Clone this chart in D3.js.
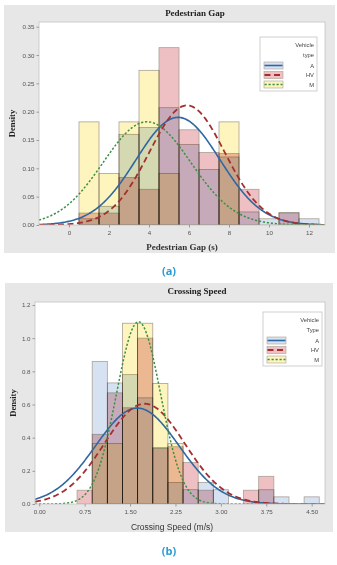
<!DOCTYPE html>
<html>
<head>
<meta charset="utf-8">
<script src="https://cdn.jsdelivr.net/npm/d3@7"></script>
<style>
  body { margin: 0; background: #fff; }
  svg { display: block; }
</style>
</head>
<body>
<svg id="fig" width="337" height="565"></svg>
<script>
// vehicle groups, in legend order
const groups = ['A', 'HV', 'M']

// (a) pedestrian gap: bin centres (s) and densities per group
const gapBins = [1, 2, 3, 4, 5, 6, 7, 8, 9, 10, 11, 12]
const gapA  = [0.011, 0.033, 0.160, 0.172, 0.207, 0.142, 0.098, 0.120, 0.023, 0.011, 0.022, 0.011]
const gapHV = [0.021, 0.021, 0.084, 0.063, 0.313, 0.168, 0.128, 0.126, 0.063, 0, 0.021, 0]
const gapM  = [0.182, 0.091, 0.182, 0.273, 0.091, 0, 0, 0.182, 0, 0, 0, 0]
// fitted normal curves (mean, sd)
const gapMean = [5.45, 5.9, 3.9]
const gapSd   = [2.1, 1.89, 2.19]
const gapXTicks = [0, 2, 4, 6, 8, 10, 12]
const gapYTicks = [0, 0.05, 0.10, 0.15, 0.20, 0.25, 0.30, 0.35]

// (b) crossing speed: bin centres (m/s) and densities per group
const speedBins = [0.75, 1.0, 1.25, 1.5, 1.75, 2.0, 2.25, 2.5, 2.75, 3.0, 3.25, 3.5, 3.75, 4.0, 4.25, 4.5]
const speedA  = [0, 0.86, 0.73, 0.78, 0.64, 0.34, 0.13, 0.086, 0.13, 0.086, 0, 0, 0.086, 0.043, 0, 0.043]
const speedHV = [0.083, 0.42, 0.67, 0.58, 1.0, 0.335, 0.345, 0.25, 0.083, 0, 0, 0.083, 0.167, 0, 0, 0]
const speedM  = [0, 0.364, 0.364, 1.09, 1.09, 0.727, 0.364, 0, 0, 0, 0, 0, 0, 0, 0, 0]
const speedMean = [1.62, 1.74, 1.64]
const speedSd   = [0.69, 0.66, 0.363]
const speedXTicks = [0, 0.75, 1.5, 2.25, 3.0, 3.75, 4.5]
const speedYTicks = [0, 0.2, 0.4, 0.6, 0.8, 1.0, 1.2]

const fills  = { A: '#d6e2f1', HV: '#eec0c4', M: '#fdf5bd' }
const lines  = { A: '#2f67a0', HV: '#a3302f', M: '#3f8f45' }
const dashes = { A: null, HV: '6,3.5', M: '2.2,1.8' }
const widths = { A: 1.6, HV: 1.8, M: 1.5 }

const svg = d3.select('#fig')

function drawPanel(p) {
    const g = svg.append('g')

    // grey graph background + white data region
    g.append('rect')
        .attr('x', p.box[0]).attr('y', p.box[1])
        .attr('width', p.box[2] - p.box[0]).attr('height', p.box[3] - p.box[1])
        .attr('fill', '#e7e7e7')
    g.append('rect')
        .attr('x', p.plot.left).attr('y', p.plot.top)
        .attr('width', p.plot.right - p.plot.left).attr('height', p.plot.bottom - p.plot.top)
        .attr('fill', '#fff')

    const x = d3.scaleLinear().domain(p.xDomain).range([p.plot.left, p.plot.right])
    const y = d3.scaleLinear().domain(p.yDomain).range([p.plot.bottom, p.plot.top])

    const clipId = 'clip-' + p.id
    g.append('clipPath').attr('id', clipId)
        .append('rect')
        .attr('x', p.plot.left).attr('y', p.plot.top)
        .attr('width', p.plot.right - p.plot.left).attr('height', p.plot.bottom - p.plot.top)

    const data = g.append('g').attr('clip-path', `url(#${clipId})`)

    // histogram bars, multiplied so overlaps darken like the original
    groups.forEach((grp, gi) => {
        const rows = p.bins.map((c, i) => ({ c, v: p.values[gi][i] })).filter(d => d.v > 0)
        data.append('g')
            .selectAll('rect')
            .data(rows)
            .join('rect')
            .attr('x', d => x(d.c - p.binWidth / 2))
            .attr('y', d => y(d.v))
            .attr('width', d => x(d.c + p.binWidth / 2) - x(d.c - p.binWidth / 2))
            .attr('height', d => y(0) - y(d.v))
            .attr('fill', fills[grp])
            .attr('stroke', '#aaa195')
            .attr('stroke-width', 0.8)
            .style('mix-blend-mode', 'multiply')
    })

    // fitted normal curves
    const xs = d3.range(p.xDomain[0], p.xDomain[1] + 0.001, (p.xDomain[1] - p.xDomain[0]) / 300)
    groups.forEach((grp, gi) => {
        const m = p.mean[gi], s = p.sd[gi]
        const pdf = v => Math.exp(-0.5 * ((v - m) / s) ** 2) / (s * Math.sqrt(2 * Math.PI))
        data.append('path')
            .datum(xs)
            .attr('d', d3.line().x(v => x(v)).y(v => y(pdf(v))))
            .attr('fill', 'none')
            .attr('stroke', lines[grp])
            .attr('stroke-width', widths[grp])
            .attr('stroke-dasharray', dashes[grp])
    })

    // frame
    g.append('rect')
        .attr('x', p.plot.left).attr('y', p.plot.top)
        .attr('width', p.plot.right - p.plot.left).attr('height', p.plot.bottom - p.plot.top)
        .attr('fill', 'none').attr('stroke', '#c4c4c4').attr('stroke-width', 0.8)

    const xAxis = g.append('g')
        .attr('transform', `translate(0, ${p.plot.bottom})`)
        .call(d3.axisBottom(x).tickValues(p.xTicks).tickFormat(p.xFmt).tickSize(2.5).tickPadding(3))
    const yAxis = g.append('g')
        .attr('transform', `translate(${p.plot.left}, 0)`)
        .call(d3.axisLeft(y).tickValues(p.yTicks).tickFormat(p.yFmt).tickSize(2.5).tickPadding(2))
    ;[xAxis, yAxis].forEach(a => {
        a.select('.domain').remove()
        a.selectAll('line').attr('stroke', '#9a9a9a')
        a.selectAll('text').attr('fill', '#555').style('font-family', 'Liberation Sans, Arial, sans-serif').style('font-size', '6.2px')
    })

    // titles
    g.append('text')
        .attr('x', p.titleX).attr('y', p.box[1] + 11)
        .attr('text-anchor', 'middle')
        .style('font-family', 'Liberation Serif, Times New Roman, serif')
        .style('font-weight', 'bold').style('font-size', '9px').attr('fill', '#222')
        .text(p.title)
    g.append('text')
        .attr('transform', `translate(${p.box[0] + 11}, ${(p.plot.top + p.plot.bottom) / 2}) rotate(-90)`)
        .attr('text-anchor', 'middle')
        .style('font-family', 'Liberation Serif, Times New Roman, serif')
        .style('font-weight', 'bold').style('font-size', '8.5px').attr('fill', '#222')
        .text('Density')
    g.append('text')
        .attr('x', p.xLabelX).attr('y', p.xLabelY)
        .attr('text-anchor', 'middle')
        .style('font-family', p.xLabelFont)
        .style('font-weight', p.xLabelWeight).style('font-size', p.xLabelSize).attr('fill', '#333')
        .text(p.xLabel)

    // legend
    const L = p.legend
    const leg = g.append('g')
    leg.append('rect')
        .attr('x', L.x).attr('y', L.y).attr('width', L.w).attr('height', L.h)
        .attr('fill', '#fff').attr('stroke', '#c4c4c4').attr('stroke-width', 0.8)
    L.head.forEach((t, i) => {
        leg.append('text')
            .attr('x', L.x + L.w - 3).attr('y', L.y + 10 + i * 10)
            .attr('text-anchor', 'end')
            .style('font-family', 'Liberation Sans, Arial, sans-serif').style('font-size', '5.8px').attr('fill', '#444')
            .text(t)
    })
    groups.forEach((grp, gi) => {
        const cy = L.y + 28.5 + gi * 9.5
        leg.append('rect')
            .attr('x', L.x + 4).attr('y', cy - 3.5).attr('width', 19).attr('height', 7)
            .attr('fill', fills[grp]).attr('stroke', '#aaa195').attr('stroke-width', 0.6)
        leg.append('line')
            .attr('x1', L.x + 4.5).attr('x2', L.x + 22.5).attr('y1', cy).attr('y2', cy)
            .attr('stroke', lines[grp]).attr('stroke-width', widths[grp])
            .attr('stroke-dasharray', dashes[grp])
        leg.append('text')
            .attr('x', L.x + L.w - 3).attr('y', cy + 2)
            .attr('text-anchor', 'end')
            .style('font-family', 'Liberation Sans, Arial, sans-serif').style('font-size', '5.8px').attr('fill', '#444')
            .text(grp)
    })

    // caption
    svg.append('text')
        .attr('x', 169).attr('y', p.captionY)
        .attr('text-anchor', 'middle')
        .style('font-family', 'Open Sans, Liberation Sans, sans-serif')
        .style('font-weight', 'bold').style('font-size', '11px').attr('fill', '#2d9bd3')
        .text(p.caption)
}

drawPanel({
    id: 'gap',
    box: [4, 5, 335, 253],
    plot: { left: 39, right: 325, top: 22, bottom: 225 },
    xDomain: [-1.5, 12.8], yDomain: [0, 0.3583],
    bins: gapBins, binWidth: 1, values: [gapA, gapHV, gapM],
    mean: gapMean, sd: gapSd,
    xTicks: gapXTicks, yTicks: gapYTicks,
    xFmt: d3.format('d'), yFmt: d3.format('.2f'),
    title: 'Pedestrian Gap', titleX: 195,
    xLabel: 'Pedestrian Gap (s)', xLabelX: 182, xLabelY: 250,
    xLabelFont: 'Liberation Serif, Times New Roman, serif', xLabelWeight: 'bold', xLabelSize: '9px',
    legend: { x: 260, y: 37, w: 57, h: 54, head: ['Vehicle', 'type'] },
    caption: '(a)', captionY: 275
})

drawPanel({
    id: 'speed',
    box: [5, 283, 333, 532],
    plot: { left: 35, right: 325, top: 302, bottom: 504 },
    xDomain: [-0.07, 4.72], yDomain: [0, 1.218],
    bins: speedBins, binWidth: 0.25, values: [speedA, speedHV, speedM],
    mean: speedMean, sd: speedSd,
    xTicks: speedXTicks, yTicks: speedYTicks,
    xFmt: d3.format('.2f'), yFmt: d3.format('.1f'),
    title: 'Crossing Speed', titleX: 197,
    xLabel: 'Crossing Speed (m/s)', xLabelX: 172, xLabelY: 529.5,
    xLabelFont: 'Liberation Sans, Arial, sans-serif', xLabelWeight: 'normal', xLabelSize: '8.5px',
    legend: { x: 263, y: 312, w: 59, h: 54, head: ['Vehicle', 'Type'] },
    caption: '(b)', captionY: 555
})
</script>
</body>
</html>
